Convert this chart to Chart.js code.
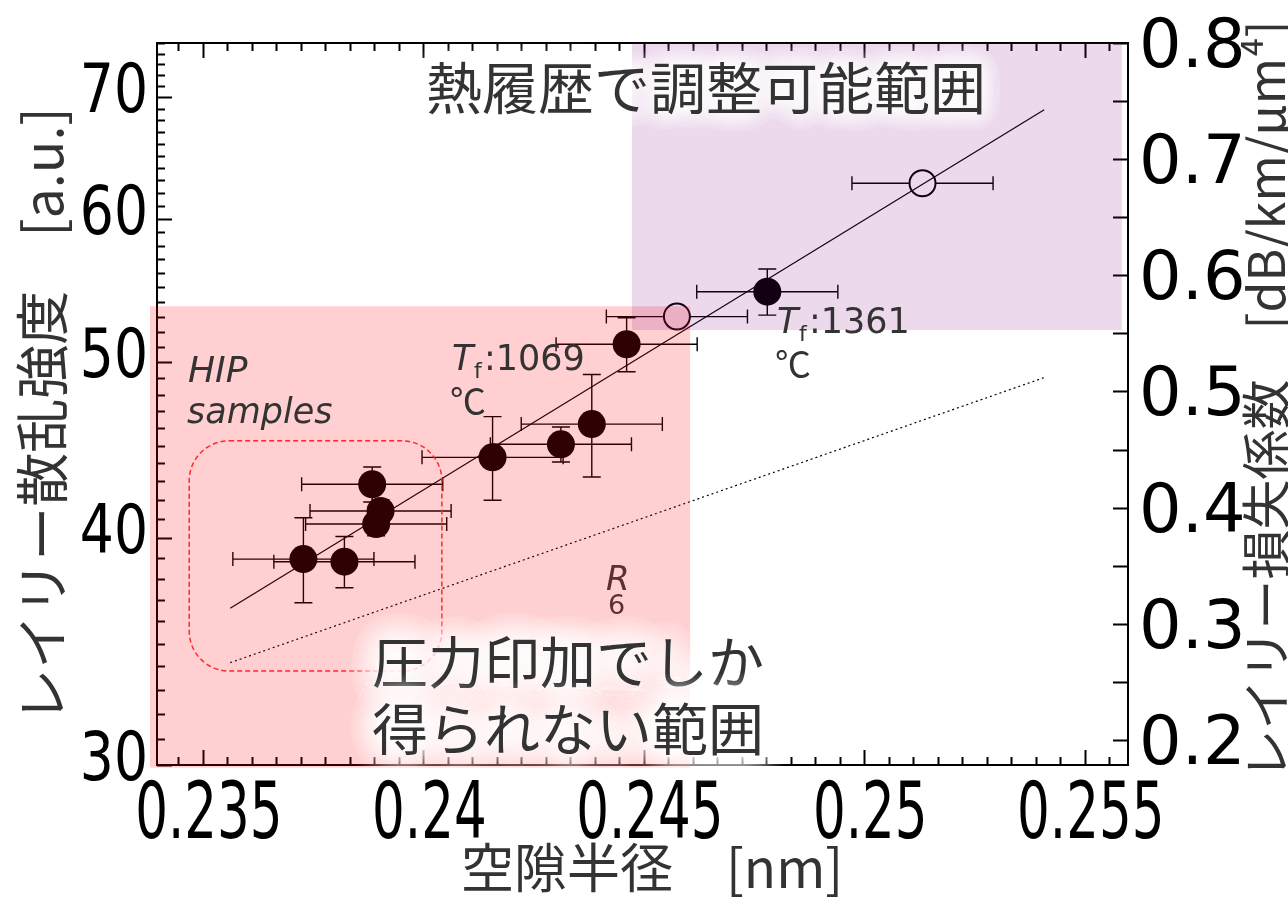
<!DOCTYPE html>
<html>
<head>
<meta charset="utf-8">
<script src="https://cdn.jsdelivr.net/npm/chart.js@4.4.1/dist/chart.umd.min.js"></script>
<style>
  html, body { margin: 0; padding: 0; background: #fff; overflow: hidden; }
  canvas { display: block; }
</style>
</head>
<body>
<canvas id="rayleighChart" width="1288" height="901"></canvas>
<script>
// measured samples (filled markers)
const sampleX = [0.23728, 0.23821, 0.23893, 0.23903, 0.23884, 0.24157, 0.24312, 0.24382, 0.24461, 0.24780];
const sampleY = [38.96, 38.83, 40.73, 41.41, 42.84, 44.33, 45.07, 46.24, 51.17, 54.7];
const sampleXErr = [0.0016, 0.0016, 0.0016, 0.0016, 0.0016, 0.0016, 0.0016, 0.0016, 0.0016, 0.0016];
const sampleYErr = [2.1, 1.26, 0.6, 0.6, 0.95, 2.35, 1.0, 3.0, 1.75, 1.6];

// open markers
const openX = [0.24575, 0.25132];
const openY = [53.0, 62.77];
const openXErr = [0.0016, 0.0016];

// fit line and R6 line (end points)
const fitX = [0.23562, 0.25408];
const fitY = [36.6, 68.9];
const r6X = [0.23562, 0.25408];
const r6Y = [34.16, 49.05];

// shaded ranges
const heatRangeX = [0.24473, 0.25584];
const heatRangeY = [52.1, 75];
const pressRangeX = [0.23380, 0.24605];
const pressRangeY = [29.9, 53.7];
const hipBoxX = [0.23469, 0.24042];
const hipBoxY = [33.8, 45.27];

// axes
const xRange = [0.23396, 0.25598];
const yRange = [30, 75];
const y2Range = [0.1784, 0.8];
const xTickLabels = [0.235, 0.24, 0.245, 0.25, 0.255];
const yTickLabels = [30, 40, 50, 60, 70];
const y2TickLabels = [0.2, 0.3, 0.4, 0.5, 0.6, 0.7, 0.8];

const JP = '"Noto Sans CJK JP"';
const LAT = '"DejaVu Sans"';
const TEXT = '#333333';

function squeezed(ctx, text, x, y, sx, align) {
  ctx.save();
  ctx.translate(x, y);
  ctx.scale(sx, 1);
  ctx.textAlign = align;
  ctx.fillText(text, 0, 0);
  ctx.restore();
}

function glowText(ctx, text, x, y, blur, passes) {
  ctx.save();
  ctx.shadowColor = '#ffffff';
  ctx.shadowBlur = blur;
  ctx.fillStyle = '#ffffff';
  for (let i = 0; i < passes; i++) ctx.fillText(text, x, y);
  ctx.restore();
  ctx.fillStyle = TEXT;
  ctx.fillText(text, x, y);
}

const errorBars = {
  id: 'errorBars',
  beforeDatasetsDraw(chart) {
    const { ctx, scales: { x, y } } = chart;
    ctx.save();
    ctx.strokeStyle = '#000';
    ctx.lineWidth = 1.4;
    const hbar = (cx, cy, e) => {
      const l = x.getPixelForValue(cx - e), r = x.getPixelForValue(cx + e), py = y.getPixelForValue(cy);
      ctx.beginPath();
      ctx.moveTo(l, py); ctx.lineTo(r, py);
      ctx.moveTo(l, py - 7); ctx.lineTo(l, py + 7);
      ctx.moveTo(r, py - 7); ctx.lineTo(r, py + 7);
      ctx.stroke();
    };
    const vbar = (cx, cy, e) => {
      const px = x.getPixelForValue(cx), t = y.getPixelForValue(cy + e), b = y.getPixelForValue(cy - e);
      ctx.beginPath();
      ctx.moveTo(px, t); ctx.lineTo(px, b);
      ctx.moveTo(px - 9, t); ctx.lineTo(px + 9, t);
      ctx.moveTo(px - 9, b); ctx.lineTo(px + 9, b);
      ctx.stroke();
    };
    sampleX.forEach((v, i) => { hbar(v, sampleY[i], sampleXErr[i]); vbar(v, sampleY[i], sampleYErr[i]); });
    openX.forEach((v, i) => hbar(v, openY[i], openXErr[i]));
    ctx.restore();
  }
};

const decorations = {
  id: 'decorations',
  afterDraw(chart) {
    const { ctx, chartArea: a, scales: { x, y, y2 } } = chart;
    ctx.save();

    // frame
    ctx.strokeStyle = '#000';
    ctx.lineWidth = 2;
    ctx.strokeRect(a.left, a.top, a.right - a.left, a.bottom - a.top);

    // x ticks, 9 subdivisions per label step
    const step = 0.005 / 9;
    ctx.beginPath();
    for (let k = -3; k <= 40; k++) {
      const v = xTickLabels[0] + k * step;
      if (v < xRange[0] || v > xRange[1]) continue;
      const px = Math.round(x.getPixelForValue(v)) + 0.5;
      const len = k % 9 === 0 ? 15 : 8;
      ctx.moveTo(px, a.bottom); ctx.lineTo(px, a.bottom - len);
      ctx.moveTo(px, a.top); ctx.lineTo(px, a.top + len);
    }
    // left log ticks
    for (let v = yRange[0]; v <= yRange[1]; v++) {
      const py = Math.round(y.getPixelForValue(v)) + 0.5;
      const len = v % 10 === 0 ? 15 : 8;
      ctx.moveTo(a.left, py); ctx.lineTo(a.left + len, py);
    }
    // right ticks
    for (let k = 0; k <= 12; k++) {
      const v = 0.2 + k * 0.05;
      const py = Math.round(y2.getPixelForValue(v)) + 0.5;
      ctx.moveTo(a.right, py); ctx.lineTo(a.right - 15, py);
    }
    ctx.stroke();

    // tick labels
    ctx.fillStyle = '#000';
    ctx.textBaseline = 'alphabetic';
    ctx.font = '78px ' + LAT;
    xTickLabels.forEach(v => squeezed(ctx, String(v), x.getPixelForValue(v) + 6, 838, 0.66, 'center'));
    ctx.font = '67px ' + LAT;
    yTickLabels.forEach(v => squeezed(ctx, String(v), 148, y.getPixelForValue(v) + 15, 0.8, 'right'));
    ctx.font = '67px ' + LAT;
    y2TickLabels.forEach(v => squeezed(ctx, v.toFixed(1), 1139, y2.getPixelForValue(v) + 24, 1, 'left'));

    // axis titles
    ctx.fillStyle = TEXT;
    ctx.textAlign = 'center';
    ctx.textBaseline = 'middle';
    ctx.font = '53px ' + JP;
    ctx.fillText('空隙半径　[nm]', 652, 868);
    ctx.save();
    ctx.translate(42, 415);
    ctx.rotate(-Math.PI / 2);
    ctx.font = '54px ' + JP;
    ctx.fillText('レイリー散乱強度　[a.u.]', 0, 0);
    ctx.restore();
    ctx.save();
    ctx.translate(1266, 400);
    ctx.rotate(-Math.PI / 2);
    ctx.font = '50px ' + JP;
    ctx.fillText('レイリー損失係数　[dB/km/μm⁴]', 0, 0);
    ctx.restore();

    // shaded ranges over everything
    const rect = (rx, ry, color) => {
      const l = x.getPixelForValue(rx[0]), r = x.getPixelForValue(rx[1]);
      const t = y.getPixelForValue(ry[1]), b = y.getPixelForValue(ry[0]);
      ctx.fillStyle = color;
      ctx.fillRect(l, t, r - l, b - t);
    };
    rect(pressRangeX, pressRangeY, 'rgba(255, 0, 8, 0.19)');
    rect(heatRangeX, heatRangeY, 'rgba(128, 0, 128, 0.15)');

    // HIP dashed box
    {
      const l = x.getPixelForValue(hipBoxX[0]), r = x.getPixelForValue(hipBoxX[1]);
      const t = y.getPixelForValue(hipBoxY[1]), b = y.getPixelForValue(hipBoxY[0]);
      ctx.strokeStyle = '#ff2a2a';
      ctx.lineWidth = 1.5;
      ctx.setLineDash([5, 3]);
      ctx.beginPath();
      ctx.roundRect(l, t, r - l, b - t, 40);
      ctx.stroke();
      ctx.setLineDash([]);
    }

    // annotations
    ctx.textBaseline = 'middle';
    ctx.textAlign = 'center';
    ctx.font = '56px ' + JP;
    glowText(ctx, '熱履歴で調整可能範囲', 706, 88, 20, 5);
    ctx.textAlign = 'left';
    glowText(ctx, '圧力印加でしか', 372, 662, 30, 8);
    glowText(ctx, '得られない範囲', 372, 729, 30, 8);

    ctx.textBaseline = 'alphabetic';
    ctx.fillStyle = TEXT;
    const tf = (px, py, label) => {
      ctx.font = 'italic 35px ' + LAT;
      ctx.fillText('T', px, py);
      ctx.font = '22px ' + LAT;
      ctx.fillText('f', px + 22, py + 8);
      ctx.font = '35px ' + LAT;
      ctx.fillText(':' + label, px + 32, py);
      ctx.font = '36px ' + JP;
      ctx.fillText('℃', px - 2, py + 45);
    };
    tf(452, 370, '1069');
    tf(777, 333, '1361');

    ctx.font = 'italic 36px ' + LAT;
    ctx.fillText('HIP', 188, 382);
    ctx.font = 'italic 35px ' + LAT;
    ctx.fillText('samples', 187, 423);

    ctx.fillStyle = '#5b3030';
    ctx.font = 'italic 34px ' + LAT;
    ctx.fillText('R', 606, 590);
    ctx.font = '27px ' + LAT;
    ctx.fillText('6', 608, 614);

    ctx.restore();
  }
};

const pts = (xs, ys) => xs.map((v, i) => ({ x: v, y: ys[i] }));

new Chart(document.getElementById('rayleighChart'), {
  type: 'scatter',
  data: {
    datasets: [
      {
        data: pts(fitX, fitY),
        showLine: true,
        borderColor: '#000',
        borderWidth: 1.2,
        pointRadius: 0,
        order: 0
      },
      {
        data: pts(r6X, r6Y),
        showLine: true,
        borderColor: '#000',
        borderWidth: 1.2,
        borderDash: [2, 3],
        pointRadius: 0,
        order: 0
      },
      {
        data: pts(sampleX, sampleY),
        pointRadius: 14,
        backgroundColor: '#000',
        borderWidth: 0,
        order: 1
      },
      {
        data: pts(openX, openY),
        pointRadius: 13,
        backgroundColor: '#fff',
        borderColor: '#000',
        borderWidth: 2,
        order: 1
      }
    ]
  },
  options: {
    responsive: false,
    animation: false,
    devicePixelRatio: 1,
    layout: { padding: { left: 157, right: 160, top: 43, bottom: 136 } },
    plugins: { legend: { display: false }, tooltip: { enabled: false } },
    scales: {
      x: { type: 'linear', min: xRange[0], max: xRange[1], display: false },
      y: { type: 'logarithmic', min: yRange[0], max: yRange[1], display: false },
      y2: { type: 'linear', position: 'right', min: y2Range[0], max: y2Range[1], display: false }
    }
  },
  plugins: [errorBars, decorations]
});
</script>
</body>
</html>
